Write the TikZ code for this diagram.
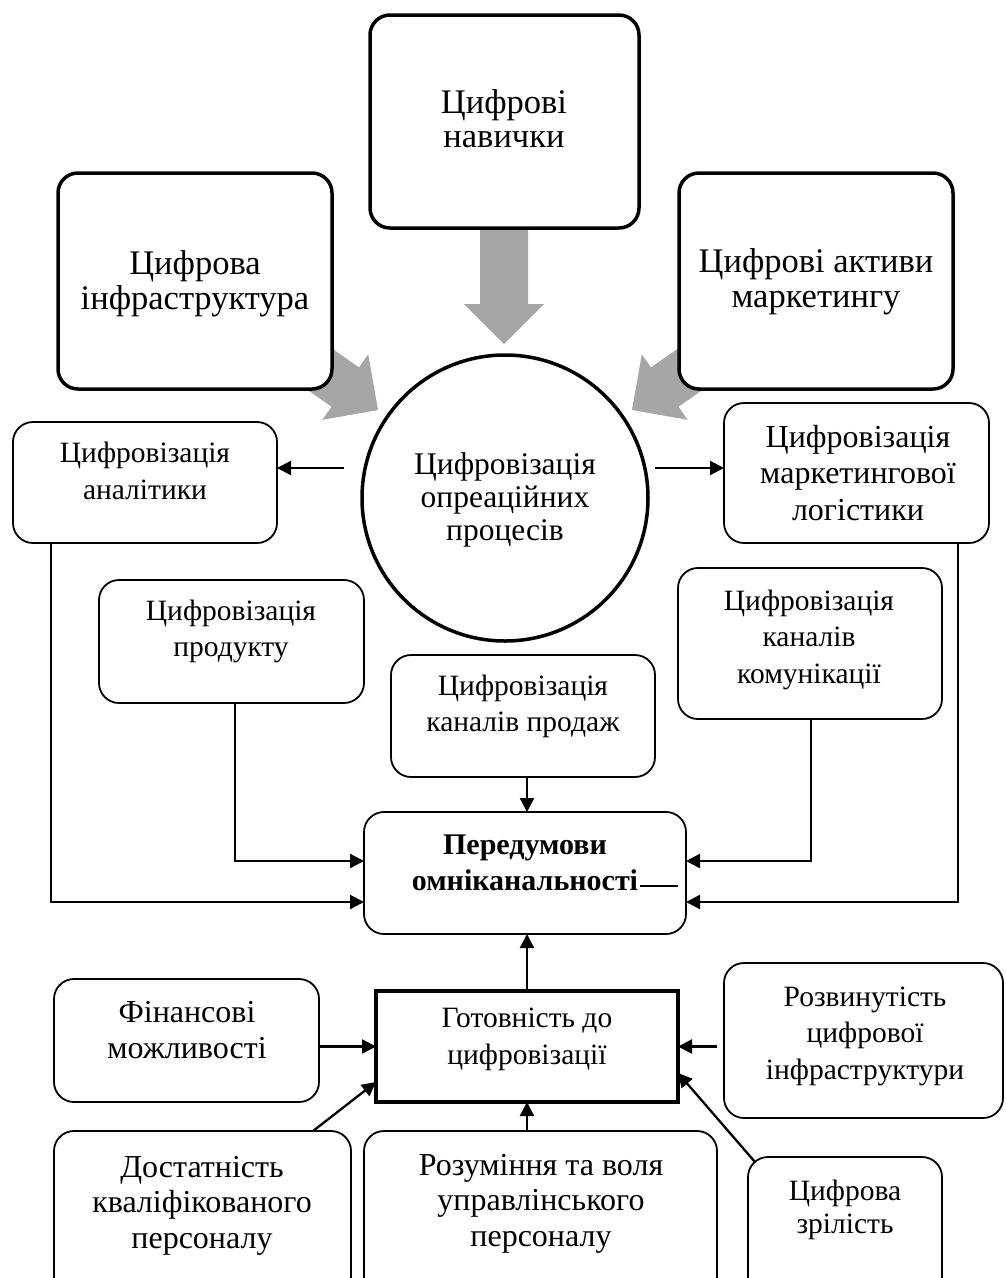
\documentclass[tikz,border=0pt]{standalone}
\usepackage{fontspec}
\setmainfont{Liberation Serif}
\usetikzlibrary{arrows.meta}
\tikzset{
  gbox/.style={draw, line width=3.5pt, rounded corners=20pt, fill=white, inner sep=0pt, outer sep=0pt},
  rbox/.style={draw, line width=1.8pt, rounded corners=20pt, fill=white, inner sep=0pt, outer sep=0pt},
  sbox/.style={draw, line width=4pt, fill=white, inner sep=0pt, outer sep=0pt},
  cbox/.style={draw, circle, line width=3.5pt, fill=white, inner sep=0pt, outer sep=0pt, minimum size=286pt},
  arr/.style={line width=2.3pt, -{Triangle[length=14pt,width=14pt]}},
  thinline/.style={line width=2pt},
  lbl/.style={align=center, inner sep=0pt},
  grayarr/.style={fill={rgb,255:red,166;green,166;blue,166}}
}
\newcommand{\fTop}{\fontsize{34.5}{34.5}\selectfont}
\newcommand{\fCirc}{\fontsize{31.5}{33}\selectfont}
\newcommand{\fMid}{\fontsize{29.5}{36.5}\selectfont}
\newcommand{\fMidL}{\fontsize{32}{36.5}\selectfont}
\newcommand{\fFin}{\fontsize{32}{36}\selectfont}
\newcommand{\fZr}{\fontsize{29.5}{33}\selectfont}
\newcommand{\fBold}{\fontsize{30}{36}\selectfont\bfseries}
\newcommand{\fBot}{\fontsize{32}{35.5}\selectfont}
\newcommand{\gArrow}[4]{%
  \begin{scope}[shift={(#1,#2)}, rotate=#3]
    \fill[grayarr] (0pt,0pt) -- (-40pt,40pt) -- (-40pt,24pt) -- (-#4pt,24pt) -- (-#4pt,-24pt) -- (-40pt,-24pt) -- (-40pt,-40pt) -- cycle;
  \end{scope}}
\begin{document}
\begin{tikzpicture}[x=1pt, y=-1pt]
\useasboundingbox (0,0) rectangle (1005,1278);
\clip (0,0) rectangle (1005,1278);

% gray arrows (behind boxes)
\gArrow{504}{344}{-90}{125}
\gArrow{378}{410}{-35}{125}
\gArrow{632}{410}{215}{125}

% top boxes
\node[gbox, minimum width=269pt, minimum height=213pt] (nav) at (504.5,121.5) {};
\node[gbox, minimum width=274pt, minimum height=216pt] (inf) at (195,281) {};
\node[gbox, minimum width=274pt, minimum height=216pt] (akt) at (816,281) {};
\node[cbox] (circ) at (505,498) {};

\node[lbl, font=\fTop] (navT) at (504,123.5) {\strut Цифрові\\\strut навички};
\node[lbl, font=\fTop] (infT) at (195,285) {\strut Цифрова\\\strut інфраструктура};
\node[lbl, font=\fTop] (aktT) at (816,283) {\strut Цифрові активи\\\strut маркетингу};
\node[lbl, font=\fCirc] (circT) at (505,500.4) {\strut Цифровізація\\\strut опреаційних\\\strut процесів};

% middle boxes
\node[rbox, minimum width=264pt, minimum height=121pt] (an) at (145,482.5) {};
\node[rbox, minimum width=265pt, minimum height=140pt] (lg) at (856.5,473) {};
\node[rbox, minimum width=265pt, minimum height=123pt] (pr) at (231.5,641.5) {};
\node[rbox, minimum width=264pt, minimum height=122pt] (sal) at (523,716) {};
\node[rbox, minimum width=264pt, minimum height=151pt] (km) at (810,643.5) {};
\node[rbox, minimum width=322pt, minimum height=122pt] (pd) at (525,873) {};

\node[lbl, font=\fMid] (anT) at (145,473.8) {\strut Цифровізація\\\strut аналітики};
\node[lbl, font=\fMidL] (lgT) at (858,476.2) {\strut Цифровізація\\\strut маркетингової\\\strut логістики};
\node[lbl, font=\fMid] (prT) at (231,631.1) {\strut Цифровізація\\\strut продукту};
\node[lbl, font=\fMid] (salT) at (523,706.1) {\strut Цифровізація\\\strut каналів продаж};
\node[lbl, font=\fMid] (kmT) at (809,639.2) {\strut Цифровізація\\\strut каналів\\\strut комунікації};
\node[lbl, font=\fBold] (pdT) at (525,864.8) {\strut Передумови\\\strut омніканальності};

% lower boxes
\node[sbox, minimum width=302pt, minimum height=111pt] (gt) at (527,1046.5) {};
\node[rbox, minimum width=265pt, minimum height=123pt] (fn) at (186.5,1040.5) {};
\node[rbox, minimum width=279pt, minimum height=155pt] (rz) at (863.5,1040.5) {};
\node[rbox, minimum width=297pt, minimum height=179pt] (ds) at (202.5,1220.5) {};
\node[rbox, minimum width=353pt, minimum height=179pt] (ru) at (540.5,1220.5) {};
\node[rbox, minimum width=194pt, minimum height=153pt] (zr) at (845,1233.5) {};

\node[lbl, font=\fMid] (gtT) at (527,1038.5) {\strut Готовність до\\\strut цифровізації};
\node[lbl, font=\fFin] (fnT) at (187,1032.8) {\strut Фінансові\\\strut можливості};
\node[lbl, font=\fMid] (rzT) at (865,1035.4) {\strut Розвинутість\\\strut цифрової\\\strut інфраструктури};
\node[lbl, font=\fBot] (dsT) at (202,1205.4) {\strut Достатність\\\strut кваліфікованого\\\strut персоналу};
\node[lbl, font=\fBot] (ruT) at (541,1203.8) {\strut Розуміння та воля\\\strut управлінського\\\strut персоналу};
\node[lbl, font=\fZr] (zrT) at (845,1209.9) {\strut Цифрова\\\strut зрілість};

% connectors
\coordinate (c1) at (344,468);
\coordinate (c2) at (655,468);
\draw[arr] (c1) -- (c1 -| an.east);
\draw[arr] (c2) -- (c2 -| lg.west);

\draw[arr] ([xshift=38pt]an.south west) |- ([yshift=-29pt]pd.west);
\draw[arr] ([xshift=3.5pt]pr.south) |- ([yshift=12pt]pd.west);
\draw[arr] ([xshift=1pt]km.south) |- ([yshift=12pt]pd.east);
\draw[arr] ([xshift=101.5pt]lg.south) |- ([yshift=-29pt]pd.east);
\draw[arr] ([xshift=4pt]sal.south) -- ([xshift=2pt]pd.north);
\draw[arr] (gt.north) -- (gt.north |- pd.south);

\coordinate (d1) at (640,886);
\coordinate (d2) at (678,886);
\draw[thinline] (d1) -- (d2);

\draw[arr] (fn.east |- gt.west) -- (gt.west);
\coordinate (c3) at (717,1046.5);
\draw[arr] (c3) -- (gt.east);
\draw[arr] ([xshift=110.5pt]ds.north) -- ([yshift=-35.5pt]gt.west);
\draw[arr] (ru.north -| gt.south) -- (gt.south);
\draw[arr] ([xshift=7pt,yshift=-5pt]zr.north west) -- ([yshift=-26.5pt]gt.east);
\end{tikzpicture}
\end{document}
